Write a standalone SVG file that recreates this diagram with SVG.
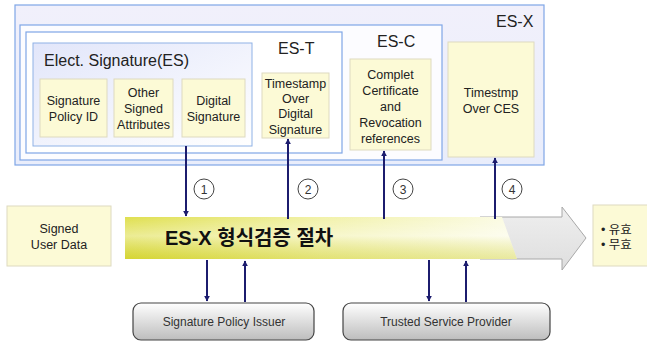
<svg xmlns="http://www.w3.org/2000/svg" width="647" height="342" viewBox="0 0 647 342">
<defs>
<linearGradient id="gOuter" x1="0" y1="0" x2="0" y2="1"><stop offset="0" stop-color="#f1f0fb"/><stop offset="1" stop-color="#e9edfb"/></linearGradient>
<linearGradient id="gES" x1="0" y1="0" x2="1" y2="1"><stop offset="0" stop-color="#e2e6fa"/><stop offset="1" stop-color="#ffffff"/></linearGradient>
<linearGradient id="gBar" x1="0" y1="0" x2="1" y2="0"><stop offset="0" stop-color="#dcdc3c"/><stop offset="0.5" stop-color="#f0f0a0"/><stop offset="1" stop-color="#fbfbe4"/></linearGradient>
<linearGradient id="gGloss" x1="0" y1="0" x2="0" y2="1"><stop offset="0" stop-color="#ffffff" stop-opacity="0.1"/><stop offset="0.45" stop-color="#ffffff" stop-opacity="0.45"/><stop offset="1" stop-color="#c8c820" stop-opacity="0.35"/></linearGradient>
<linearGradient id="gGray" x1="0" y1="0" x2="0" y2="1"><stop offset="0" stop-color="#ffffff"/><stop offset="1" stop-color="#bdbdbd"/></linearGradient>
<linearGradient id="gArr" x1="0" y1="0" x2="0" y2="1"><stop offset="0" stop-color="#efefef"/><stop offset="1" stop-color="#dedede"/></linearGradient>
<marker id="ah" viewBox="0 0 10 10" refX="9" refY="5" markerWidth="6" markerHeight="6" markerUnits="userSpaceOnUse" orient="auto"><path d="M0,0 L10,5 L0,10 z" fill="#1c1c6e"/></marker>
</defs>
<style>
.t{font-family:"Liberation Sans",Arial,sans-serif;fill:#222;}
.s{font-size:12.5px;text-anchor:middle;}
.h{font-size:16px;}
.y{fill:#fcfad6;stroke:#dedac0;stroke-width:1;}
.b{stroke:#7fa6e6;stroke-width:1.2;}
.c{stroke:#1c1c6e;stroke-width:2;fill:none;marker-end:url(#ah);}
.n{fill:#fff;stroke:#444;stroke-width:1;}
.nt{font-family:"Liberation Sans",Arial,sans-serif;font-size:12px;text-anchor:middle;fill:#333;}
.g{fill:url(#gGray);stroke:#444;stroke-width:1.2;}
</style>
<rect width="647" height="342" fill="#fff"/>
<g id="es-x">
<rect x="15" y="5" width="529" height="160" fill="url(#gOuter)" class="b"/>
<text class="t h" x="496" y="27">ES-X</text>
</g>
<g id="es-c">
<rect x="20" y="25" width="422" height="135" fill="#fcfcff" class="b"/>
<text class="t h" x="377" y="47">ES-C</text>
</g>
<g id="es-t">
<rect x="26" y="32" width="316" height="121" fill="#ffffff" class="b"/>
<text class="t h" x="278" y="54">ES-T</text>
</g>
<g id="es">
<rect x="33" y="43" width="219" height="103" fill="url(#gES)" stroke="#8fb2e6" stroke-width="1"/>
<text class="t h" x="44" y="66">Elect. Signature(ES)</text>
</g>
<g id="sig-policy-id">
<rect class="y" x="40" y="79" width="67" height="58"/>
<text class="t s" x="73.5" y="105">Signature</text>
<text class="t s" x="73.5" y="121">Policy ID</text>
</g>
<g id="other-signed">
<rect class="y" x="114" y="79" width="59" height="58"/>
<text class="t s" x="143.5" y="97">Other</text>
<text class="t s" x="143.5" y="113">Signed</text>
<text class="t s" x="143.5" y="129">Attributes</text>
</g>
<g id="digital-sig">
<rect class="y" x="182" y="79" width="63" height="58"/>
<text class="t s" x="213.5" y="105">Digital</text>
<text class="t s" x="213.5" y="121">Signature</text>
</g>
<g id="timestamp-ds">
<rect class="y" x="262" y="73" width="67" height="65"/>
<text class="t s" x="295.5" y="88">Timestamp</text>
<text class="t s" x="295.5" y="103">Over</text>
<text class="t s" x="295.5" y="118">Digital</text>
<text class="t s" x="295.5" y="134">Signature</text>
</g>
<g id="complete-cert">
<rect class="y" x="350" y="59" width="81" height="91"/>
<text class="t s" x="390.5" y="79">Complet</text>
<text class="t s" x="390.5" y="95">Certificate</text>
<text class="t s" x="390.5" y="111">and</text>
<text class="t s" x="390.5" y="127">Revocation</text>
<text class="t s" x="390.5" y="143">references</text>
</g>
<g id="timestamp-ces">
<rect class="y" x="448" y="42" width="86" height="115"/>
<text class="t s" x="491" y="97">Timestmp</text>
<text class="t s" x="491" y="113">Over CES</text>
</g>
<g id="signed-user-data">
<rect class="y" x="7" y="206" width="104" height="60"/>
<text class="t s" x="59" y="233">Signed</text>
<text class="t s" x="59" y="249">User Data</text>
</g>
<g id="process">
<path d="M480,217 L562,217 L562,207 L586,238 L562,270 L562,259 L480,259 z" fill="url(#gArr)" stroke="#a8a8a8" stroke-width="1"/>
<path d="M125,217 L502,217 L517,259 L125,259 z" fill="url(#gBar)"/>
<path d="M125,217 L502,217 L517,259 L125,259 z" fill="url(#gGloss)"/>
<text x="165" y="245" font-family="'Liberation Sans','Noto Sans CJK KR',sans-serif" font-size="20" font-weight="bold" fill="#111">ES-X 형식검증 절차</text>
</g>
<g id="result">
<rect class="y" x="593" y="205" width="60" height="61"/>
<text x="601" y="234" font-family="'Liberation Sans','Noto Sans CJK KR',sans-serif" font-size="12.5" fill="#222">• 유효</text>
<text x="601" y="249" font-family="'Liberation Sans','Noto Sans CJK KR',sans-serif" font-size="12.5" fill="#222">• 무효</text>
</g>
<g id="sig-policy-issuer">
<rect class="g" x="133" y="303" width="181" height="37" rx="8"/>
<text class="nt" x="224" y="326">Signature Policy Issuer</text>
</g>
<g id="trusted-service-provider">
<rect class="g" x="343" y="303" width="207" height="37" rx="8"/>
<text class="nt" x="446" y="326">Trusted Service Provider</text>
</g>
<g id="connectors">
<line class="c" x1="186" y1="146" x2="186" y2="216"/>
<line class="c" x1="288" y1="219" x2="288" y2="139"/>
<line class="c" x1="384" y1="219" x2="384" y2="151"/>
<line class="c" x1="495" y1="219" x2="495" y2="158"/>
<line class="c" x1="207" y1="260" x2="207" y2="301"/>
<line class="c" x1="245" y1="302" x2="245" y2="261"/>
<line class="c" x1="429" y1="260" x2="429" y2="301"/>
<line class="c" x1="466" y1="302" x2="466" y2="261"/>
<circle class="n" cx="204" cy="189" r="10"/><text class="nt" x="204" y="193.5">1</text>
<circle class="n" cx="308" cy="189" r="10"/><text class="nt" x="308" y="193.5">2</text>
<circle class="n" cx="403" cy="189" r="10"/><text class="nt" x="403" y="193.5">3</text>
<circle class="n" cx="512" cy="189" r="10"/><text class="nt" x="512" y="193.5">4</text>
</g>
</svg>
